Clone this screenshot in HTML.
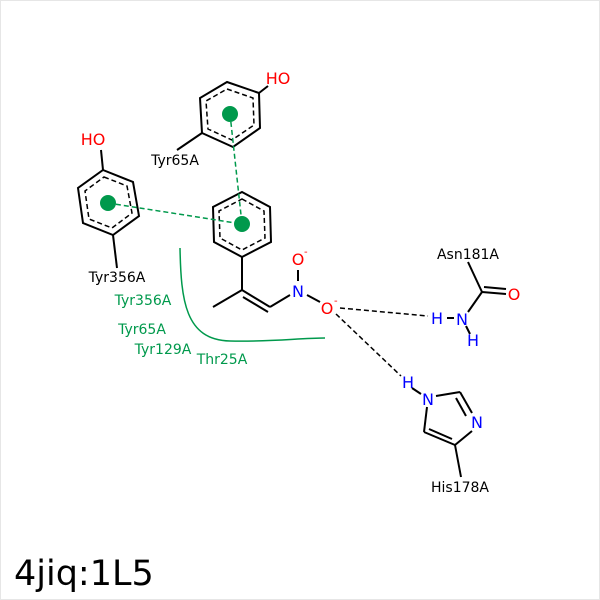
<!DOCTYPE html>
<html><head><style>body{margin:0;background:#fff}svg{display:block}</style></head><body>
<svg width="600" height="600" viewBox="0 0 600 600" xmlns="http://www.w3.org/2000/svg" font-family="DejaVu Sans, Liberation Sans, sans-serif">
<rect x="0.5" y="0.5" width="599" height="599" fill="#fff" stroke="#e6e6e6"/>
<g stroke="#000" stroke-width="2" fill="none">
<polygon points="227,82 259,93 260,128 233,147 202,133 200,98"/>
<polygon points="227,89 253,98 254,125 232,140 208,129 206,101" stroke-dasharray="5,3" stroke-width="1.5"/>
<line x1="259" y1="93" x2="268" y2="86"/>
<line x1="202" y1="133" x2="177" y2="150"/>
<polygon points="103,170 133,182 139,216 113,235 83,223 78,188"/>
<polygon points="104,177 127,186 132,213 112,228 89,219 85,191" stroke-dasharray="5,3" stroke-width="1.5"/>
<line x1="103" y1="170" x2="101" y2="150"/>
<line x1="113" y1="235" x2="117" y2="268"/>
<polygon points="242,192 270,207 271,242 242,257 214,242 213,207"/>
<polygon points="242,199 264,211 265,238 242,250 220,238 219,211" stroke-dasharray="5,3" stroke-width="1.5"/>
<line x1="242" y1="257" x2="242" y2="290"/>
<line x1="242" y1="290" x2="213" y2="307"/>
<line x1="242" y1="290" x2="270" y2="307"/>
<line x1="243" y1="297" x2="268" y2="312"/>
<line x1="270" y1="307" x2="290" y2="295"/>
<line x1="298" y1="281" x2="298" y2="270"/>
<line x1="307" y1="295" x2="320" y2="302"/>
<line x1="468" y1="262" x2="482" y2="292"/>
<line x1="482" y1="292" x2="506" y2="294"/>
<line x1="484" y1="287" x2="506" y2="289"/>
<line x1="482" y1="292" x2="468" y2="312"/>
<line x1="447" y1="318" x2="454" y2="318"/>
<line x1="466" y1="326" x2="470" y2="334"/>
<line x1="412" y1="388" x2="421" y2="394"/>
<line x1="436" y1="396" x2="460" y2="392"/>
<line x1="460" y1="392" x2="472" y2="413"/>
<line x1="456" y1="398" x2="466" y2="416"/>
<line x1="472" y1="431" x2="455" y2="445"/>
<line x1="455" y1="445" x2="424" y2="432"/>
<line x1="452" y1="439" x2="429" y2="429"/>
<line x1="424" y1="432" x2="427" y2="407"/>
<line x1="455" y1="445" x2="461" y2="477"/>
<line x1="340" y1="308" x2="428" y2="316" stroke-dasharray="5,3" stroke-width="1.5"/>
<line x1="336" y1="314" x2="401" y2="376" stroke-dasharray="5,3" stroke-width="1.5"/>
</g>
<g stroke="#00994c" stroke-width="1.5" fill="none" stroke-dasharray="5,3">
<line x1="230" y1="114" x2="242" y2="224"/>
<line x1="108" y1="203" x2="242" y2="224"/>
</g>
<g fill="#00994c"><circle cx="230" cy="114" r="8"/><circle cx="108" cy="203" r="8"/><circle cx="242" cy="224" r="8"/></g>
<path d="M180,248 C181,300 185,340 230,341 C270,342 300,338 325,338" stroke="#00994c" stroke-width="1.5" fill="none"/>
<g font-size="14">
<text x="278" y="84" fill="#f00" text-anchor="middle" font-size="16">HO</text>
<text x="93" y="145" fill="#f00" text-anchor="middle" font-size="16">HO</text>
<text x="175" y="165" text-anchor="middle">Tyr65A</text>
<text x="117" y="282" text-anchor="middle">Tyr356A</text>
<text x="298" y="265" fill="#f00" text-anchor="middle" font-size="16">O</text><text x="304" y="255" fill="#f00" font-size="10">-</text>
<text x="298" y="297" fill="#00f" text-anchor="middle" font-size="16">N</text>
<text x="327" y="314" fill="#f00" text-anchor="middle" font-size="16">O</text><text x="334" y="304" fill="#f00" font-size="10">-</text>
<text x="468" y="259" text-anchor="middle">Asn181A</text>
<text x="514" y="300" fill="#f00" text-anchor="middle" font-size="16">O</text>
<text x="437" y="324" fill="#00f" text-anchor="middle" font-size="16">H</text>
<text x="462" y="325" fill="#00f" text-anchor="middle" font-size="16">N</text>
<text x="473" y="346" fill="#00f" text-anchor="middle" font-size="16">H</text>
<text x="408" y="388" fill="#00f" text-anchor="middle" font-size="16">H</text>
<text x="428" y="405" fill="#00f" text-anchor="middle" font-size="16">N</text>
<text x="477" y="428" fill="#00f" text-anchor="middle" font-size="16">N</text>
<text x="460" y="492" text-anchor="middle">His178A</text>
<g fill="#00994c">
<text x="143" y="305" text-anchor="middle">Tyr356A</text>
<text x="142" y="334" text-anchor="middle">Tyr65A</text>
<text x="163" y="354" text-anchor="middle">Tyr129A</text>
<text x="222" y="364" text-anchor="middle">Thr25A</text>
</g>
</g>
<text x="14" y="585" font-size="35">4jiq:1L5</text>
</svg>
</body></html>
